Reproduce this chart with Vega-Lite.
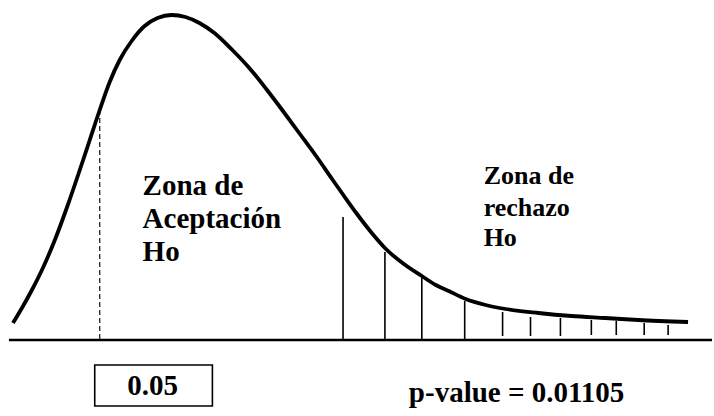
{
  "$schema": "https://vega.github.io/schema/vega-lite/v6.json",
  "width": 714,
  "height": 416,
  "autosize": {"type": "fit", "contains": "padding"},
  "padding": 0,
  "background": "white",
  "config": {"view": {"stroke": null}},
  "datasets": {
    "curve": [
      {"x": 13, "y": 323}, {"x": 22, "y": 308}, {"x": 32, "y": 290}, {"x": 43, "y": 268},
      {"x": 55, "y": 240}, {"x": 68, "y": 205}, {"x": 80, "y": 170}, {"x": 90, "y": 140},
      {"x": 100, "y": 110}, {"x": 110, "y": 82}, {"x": 120, "y": 60}, {"x": 132, "y": 41},
      {"x": 145, "y": 26}, {"x": 158, "y": 18}, {"x": 172, "y": 15}, {"x": 186, "y": 17},
      {"x": 200, "y": 23}, {"x": 215, "y": 33}, {"x": 233, "y": 50}, {"x": 250, "y": 68},
      {"x": 267, "y": 89}, {"x": 283, "y": 110}, {"x": 300, "y": 133}, {"x": 317, "y": 156},
      {"x": 333, "y": 179}, {"x": 345, "y": 196}, {"x": 358, "y": 214}, {"x": 372, "y": 232},
      {"x": 387, "y": 249}, {"x": 405, "y": 264}, {"x": 423, "y": 276}, {"x": 437, "y": 285},
      {"x": 450, "y": 291}, {"x": 467, "y": 299}, {"x": 487, "y": 305}, {"x": 507, "y": 309},
      {"x": 540, "y": 313}, {"x": 573, "y": 316}, {"x": 607, "y": 318}, {"x": 640, "y": 320},
      {"x": 690, "y": 322}
    ],
    "ticks": [
      {"x": 344, "top": 217, "bottom": 339}, {"x": 386, "top": 252, "bottom": 339},
      {"x": 423, "top": 278, "bottom": 339}, {"x": 466, "top": 301, "bottom": 339},
      {"x": 504, "top": 312, "bottom": 336}, {"x": 532, "top": 317, "bottom": 336},
      {"x": 562, "top": 318, "bottom": 336}, {"x": 593, "top": 320, "bottom": 335},
      {"x": 618, "top": 321, "bottom": 335}, {"x": 646, "top": 323, "bottom": 335},
      {"x": 670, "top": 325, "bottom": 335}
    ],
    "dashed": [{"x": 100, "top": 110, "bottom": 340}],
    "baseline": [{"x": 9, "x2": 714, "y": 340}],
    "box": [{"x": 95, "x2": 213, "y": 365, "y2": 406}],
    "leftText": [
      {"x": 143, "y": 195, "label": "Zona de"},
      {"x": 143, "y": 228, "label": "Aceptación"},
      {"x": 143, "y": 261, "label": "Ho"}
    ],
    "rightText": [
      {"x": 485, "y": 184, "label": "Zona de"},
      {"x": 485, "y": 216, "label": "rechazo"},
      {"x": 485, "y": 246, "label": "Ho"}
    ],
    "bottomCenter": [{"x": 153, "y": 395, "label": "0.05"}],
    "bottomLeft": [{"x": 410, "y": 402, "label": "p-value = 0.01105"}]
  },
  "layer": [
    {
      "data": {"name": "baseline"},
      "mark": {"type": "rule", "stroke": "black", "strokeWidth": 2.5},
      "encoding": {
        "x": {"field": "x", "type": "quantitative", "scale": {"domain": [0, 714], "nice": false, "zero": false}, "axis": null},
        "x2": {"field": "x2"},
        "y": {"field": "y", "type": "quantitative", "scale": {"domain": [0, 416], "nice": false, "zero": false, "reverse": true}, "axis": null}
      }
    },
    {
      "data": {"name": "dashed"},
      "mark": {"type": "rule", "stroke": "#222", "strokeWidth": 1.3, "strokeDash": [5, 3]},
      "encoding": {
        "x": {"field": "x", "type": "quantitative", "axis": null},
        "y": {"field": "top", "type": "quantitative", "axis": null},
        "y2": {"field": "bottom"}
      }
    },
    {
      "data": {"name": "ticks"},
      "mark": {"type": "rule", "stroke": "black", "strokeWidth": 1.6},
      "encoding": {
        "x": {"field": "x", "type": "quantitative", "axis": null},
        "y": {"field": "top", "type": "quantitative", "axis": null},
        "y2": {"field": "bottom"}
      }
    },
    {
      "data": {"name": "curve"},
      "mark": {"type": "line", "stroke": "black", "strokeWidth": 3.8, "interpolate": "monotone", "strokeCap": "butt"},
      "encoding": {
        "x": {"field": "x", "type": "quantitative", "axis": null},
        "y": {"field": "y", "type": "quantitative", "axis": null}
      }
    },
    {
      "data": {"name": "box"},
      "mark": {"type": "rect", "filled": false, "stroke": "black", "strokeWidth": 1.6},
      "encoding": {
        "x": {"field": "x", "type": "quantitative", "axis": null},
        "x2": {"field": "x2"},
        "y": {"field": "y", "type": "quantitative", "axis": null},
        "y2": {"field": "y2"}
      }
    },
    {
      "data": {"name": "leftText"},
      "mark": {"type": "text", "font": "Liberation Serif", "fontWeight": "bold", "fontSize": 29, "align": "left", "baseline": "alphabetic", "color": "black"},
      "encoding": {
        "x": {"field": "x", "type": "quantitative", "axis": null},
        "y": {"field": "y", "type": "quantitative", "axis": null},
        "text": {"field": "label"}
      }
    },
    {
      "data": {"name": "rightText"},
      "mark": {"type": "text", "font": "Liberation Serif", "fontWeight": "bold", "fontSize": 26, "align": "left", "baseline": "alphabetic", "color": "black"},
      "encoding": {
        "x": {"field": "x", "type": "quantitative", "axis": null},
        "y": {"field": "y", "type": "quantitative", "axis": null},
        "text": {"field": "label"}
      }
    },
    {
      "data": {"name": "bottomCenter"},
      "mark": {"type": "text", "font": "Liberation Serif", "fontWeight": "bold", "fontSize": 29, "align": "center", "baseline": "alphabetic", "color": "black"},
      "encoding": {
        "x": {"field": "x", "type": "quantitative", "axis": null},
        "y": {"field": "y", "type": "quantitative", "axis": null},
        "text": {"field": "label"}
      }
    },
    {
      "data": {"name": "bottomLeft"},
      "mark": {"type": "text", "font": "Liberation Serif", "fontWeight": "bold", "fontSize": 29, "align": "left", "baseline": "alphabetic", "color": "black"},
      "encoding": {
        "x": {"field": "x", "type": "quantitative", "axis": null},
        "y": {"field": "y", "type": "quantitative", "axis": null},
        "text": {"field": "label"}
      }
    }
  ]
}
